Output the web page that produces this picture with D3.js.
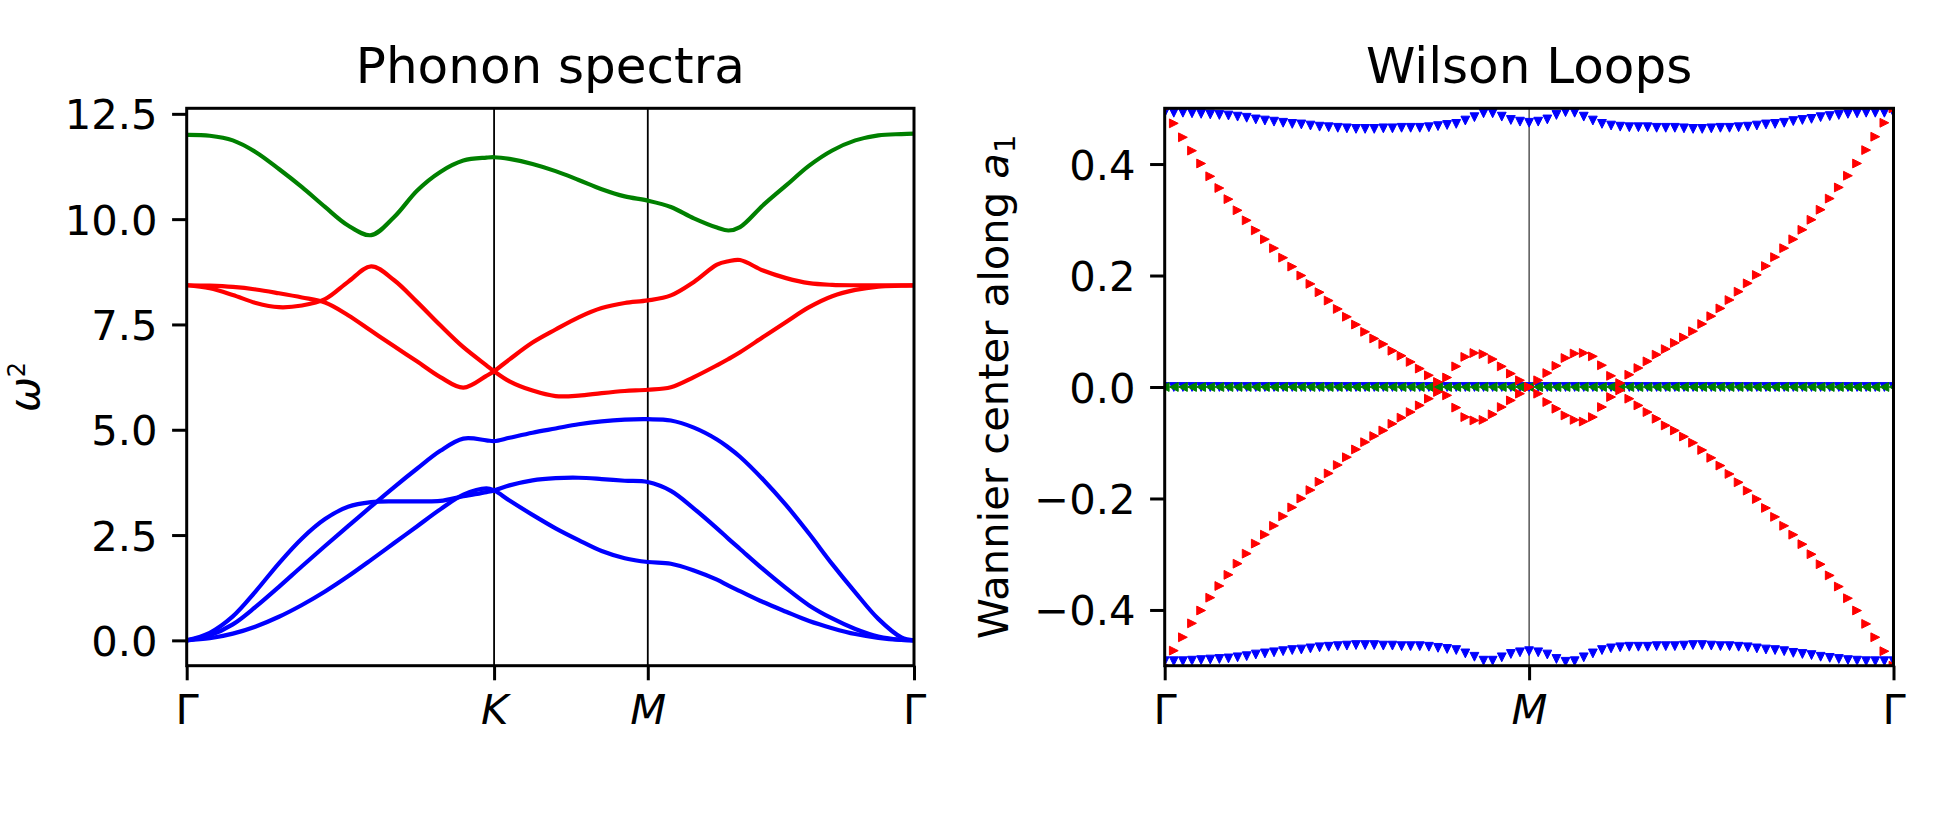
<!DOCTYPE html>
<html>
<head>
<meta charset="utf-8">
<script src="https://cdn.jsdelivr.net/npm/d3@7"></script>
<style>
  body { margin: 0; background: #fff; }
  text { font-family: "DejaVu Sans", sans-serif; fill: #000; }
</style>
</head>
<body>
<div id="figure"></div>
<script>
// ---- Phonon spectra: path Γ - K - M - Γ (path length units) ----
var kPath = [0, 0.1, 0.2, 0.3, 0.4, 0.5, 0.6, 0.7, 0.8, 0.9, 1.0, 1.1, 1.2, 1.3, 1.3333,
             1.4, 1.5, 1.6, 1.7, 1.8, 1.9, 2.0,
             2.1, 2.2, 2.3, 2.35, 2.4, 2.5, 2.6, 2.7, 2.8, 2.9, 3.0, 3.1, 3.1547];
var kTicks = [0, 1.3333, 2.0, 3.1547];
var kTickLabels = ["Γ", "K", "M", "Γ"];
var omegaTicks = [0, 2.5, 5, 7.5, 10, 12.5];

var bandGreen = [12.00, 11.98, 11.87, 11.59, 11.19, 10.76, 10.29, 9.85, 9.62, 10.05, 10.68, 11.12, 11.39, 11.46, 11.47,
                 11.43, 11.31, 11.14, 10.93, 10.71, 10.54, 10.44,
                 10.29, 10.02, 9.80, 9.73, 9.81, 10.33, 10.80, 11.27, 11.63, 11.87, 11.99, 12.02, 12.03];
var bandRedA  = [8.43, 8.36, 8.20, 8.01, 7.91, 7.95, 8.10, 8.51, 8.88, 8.55, 8.03, 7.48, 6.96, 6.53, 6.39,
                 6.15, 5.93, 5.80, 5.81, 5.87, 5.92, 5.95,
                 6.01, 6.25, 6.53, 6.68, 6.84, 7.20, 7.56, 7.91, 8.17, 8.32, 8.40, 8.42, 8.43];
var bandRedB  = [8.43, 8.42, 8.39, 8.33, 8.24, 8.14, 8.02, 7.72, 7.35, 6.98, 6.62, 6.25, 6.00, 6.28, 6.39,
                 6.67, 7.07, 7.38, 7.67, 7.89, 8.01, 8.07,
                 8.19, 8.51, 8.92, 9.00, 9.03, 8.78, 8.60, 8.48, 8.44, 8.43, 8.43, 8.43, 8.43];
var bandBlue1 = [0, 0.18, 0.57, 1.17, 1.83, 2.42, 2.88, 3.17, 3.28, 3.30, 3.30, 3.31, 3.42, 3.52, 3.56,
                 3.68, 3.80, 3.85, 3.86, 3.83, 3.79, 3.76,
                 3.55, 3.13, 2.66, 2.41, 2.17, 1.69, 1.24, 0.83, 0.52, 0.27, 0.09, 0.01, 0];
var bandBlue2 = [0, 0.12, 0.38, 0.80, 1.27, 1.76, 2.24, 2.71, 3.18, 3.64, 4.08, 4.50, 4.79, 4.75, 4.73,
                 4.81, 4.93, 5.03, 5.13, 5.20, 5.24, 5.25,
                 5.22, 5.05, 4.77, 4.58, 4.36, 3.82, 3.21, 2.53, 1.81, 1.14, 0.51, 0.07, 0];
var bandBlue3 = [0, 0.05, 0.16, 0.33, 0.56, 0.84, 1.16, 1.52, 1.91, 2.31, 2.71, 3.11, 3.46, 3.61, 3.56,
                 3.32, 2.98, 2.66, 2.38, 2.12, 1.95, 1.86,
                 1.82, 1.66, 1.44, 1.30, 1.17, 0.91, 0.68, 0.46, 0.29, 0.15, 0.06, 0.01, 0];

// ---- Wilson loops: 81 k points along Γ - M - Γ (index) ----
var wilsonTicks = [0, 40, 80];
var wilsonTickLabels = ["Γ", "M", "Γ"];
var wannierTicks = [-0.4, -0.2, 0, 0.2, 0.4];

var wcBlueTop = [0.492, 0.492, 0.492, 0.491, 0.490, 0.489, 0.488, 0.487, 0.485, 0.483,
                 0.480, 0.478, 0.476, 0.474, 0.472, 0.471, 0.469, 0.467, 0.466, 0.465,
                 0.464, 0.463, 0.463, 0.463, 0.464, 0.464, 0.465, 0.465, 0.465, 0.466,
                 0.468, 0.470, 0.472, 0.478, 0.484, 0.491, 0.491, 0.485, 0.479, 0.476,
                 0.474,
                 0.476, 0.480, 0.488, 0.493, 0.492, 0.485, 0.478, 0.472, 0.469, 0.467,
                 0.466, 0.466, 0.466, 0.465, 0.465, 0.465, 0.464, 0.463, 0.463, 0.464,
                 0.465, 0.465, 0.466, 0.467, 0.469, 0.471, 0.472, 0.474, 0.477, 0.479,
                 0.481, 0.484, 0.486, 0.488, 0.490, 0.491, 0.492, 0.492, 0.492, 0.492];
var wcBlueBottom = [-0.492, -0.492, -0.492, -0.491, -0.490, -0.489, -0.488, -0.487, -0.485, -0.483,
                    -0.480, -0.478, -0.476, -0.474, -0.472, -0.471, -0.469, -0.467, -0.466, -0.465,
                    -0.464, -0.463, -0.463, -0.463, -0.464, -0.464, -0.465, -0.465, -0.465, -0.466,
                    -0.468, -0.470, -0.472, -0.478, -0.484, -0.491, -0.491, -0.485, -0.479, -0.476,
                    -0.474,
                    -0.476, -0.480, -0.488, -0.493, -0.492, -0.485, -0.478, -0.472, -0.469, -0.467,
                    -0.466, -0.466, -0.466, -0.465, -0.465, -0.465, -0.464, -0.463, -0.463, -0.464,
                    -0.465, -0.465, -0.466, -0.467, -0.469, -0.471, -0.472, -0.474, -0.477, -0.479,
                    -0.481, -0.484, -0.486, -0.488, -0.490, -0.491, -0.492, -0.492, -0.492, -0.492];
var wcRedUp = [0.500, 0.473, 0.448, 0.424, 0.401, 0.378, 0.357, 0.337, 0.317, 0.299,
               0.281, 0.265, 0.249, 0.232, 0.216, 0.200, 0.185, 0.170, 0.155, 0.140,
               0.126, 0.112, 0.099, 0.087, 0.077, 0.065, 0.056, 0.045, 0.033, 0.021,
               0.009, 0.017, 0.037, 0.054, 0.061, 0.059, 0.050, 0.037, 0.024, 0.012,
               0.000,
               0.012, 0.025, 0.038, 0.052, 0.060, 0.061, 0.055, 0.039, 0.020, 0.007,
               0.022, 0.034, 0.046, 0.058, 0.068, 0.079, 0.089, 0.100, 0.113, 0.127,
               0.141, 0.156, 0.171, 0.186, 0.201, 0.217, 0.233, 0.249, 0.265, 0.282,
               0.300, 0.318, 0.338, 0.358, 0.379, 0.401, 0.425, 0.449, 0.474, 0.500];
var wcRedDown = [-0.500, -0.473, -0.449, -0.424, -0.401, -0.378, -0.357, -0.337, -0.317, -0.299,
                 -0.281, -0.265, -0.249, -0.232, -0.216, -0.200, -0.185, -0.170, -0.155, -0.140,
                 -0.126, -0.112, -0.099, -0.088, -0.078, -0.066, -0.055, -0.045, -0.033, -0.021,
                 -0.009, -0.015, -0.037, -0.054, -0.060, -0.059, -0.049, -0.036, -0.024, -0.012,
                 0.000,
                 -0.012, -0.027, -0.039, -0.051, -0.059, -0.062, -0.054, -0.036, -0.018, -0.006,
                 -0.021, -0.033, -0.045, -0.057, -0.069, -0.078, -0.089, -0.100, -0.113, -0.127,
                 -0.141, -0.156, -0.171, -0.186, -0.201, -0.217, -0.233, -0.249, -0.265, -0.282,
                 -0.300, -0.318, -0.338, -0.358, -0.379, -0.401, -0.425, -0.449, -0.474, -0.500];
var wcZero = [0, 0, 0, 0, 0, 0, 0, 0, 0, 0, 0, 0, 0, 0, 0, 0, 0, 0, 0, 0,
              0, 0, 0, 0, 0, 0, 0, 0, 0, 0, 0, 0, 0, 0, 0, 0, 0, 0, 0, 0,
              0,
              0, 0, 0, 0, 0, 0, 0, 0, 0, 0, 0, 0, 0, 0, 0, 0, 0, 0, 0, 0,
              0, 0, 0, 0, 0, 0, 0, 0, 0, 0, 0, 0, 0, 0, 0, 0, 0, 0, 0, 0];


var width = 1950, height = 840;
var tickLen = 14.6, tickPad = 14.6, fontSize = 41.7, titleSize = 50;
var phononBox = {left: 186.7, right: 914, top: 108.3, bottom: 665.7};
var wilsonBox = {left: 1164.7, right: 1893.5, top: 108.3, bottom: 665.7};

var svg = d3.select("#figure")
            .append("svg")
            .attr("width", width)
            .attr("height", height);

svg.append("rect").attr("width", width).attr("height", height).attr("fill", "white");


//Axis ticks, labels, title and clip area of one panel
function drawFrame(svg, box, x, y, xTicks, xLabels, yTicks, yFormat, title, clipId){

    svg.append("clipPath")
       .attr("id", clipId)
       .append("rect")
       .attr("x", box.left).attr("y", box.top)
       .attr("width", box.right - box.left)
       .attr("height", box.bottom - box.top);

    var xAxis = svg.append("g")
                   .attr("class", "x_axis")
                   .attr("transform", "translate(0," + box.bottom + ")")
                   .call(d3.axisBottom(x)
                           .tickValues(xTicks)
                           .tickSize(tickLen)
                           .tickPadding(tickPad)
                           .tickFormat(function(d, i){ return xLabels[i]; }));

    var yAxis = svg.append("g")
                   .attr("class", "y_axis")
                   .attr("transform", "translate(" + box.left + ",0)")
                   .call(d3.axisLeft(y)
                           .tickValues(yTicks)
                           .tickSize(tickLen)
                           .tickPadding(tickPad)
                           .tickFormat(yFormat));

    [xAxis, yAxis].forEach(function(a){
        a.select(".domain").remove();
        a.attr("font-family", null).attr("font-size", null);
        a.selectAll(".tick line").attr("stroke", "black").attr("stroke-width", 3);
        a.selectAll(".tick text").style("font-size", fontSize + "px");
    });

    xAxis.selectAll(".tick text")
         .style("font-style", function(d, i){ return /[A-Z]/.test(xLabels[i]) ? "italic" : "normal"; });
    yAxis.selectAll(".tick text").attr("dy", "0.36em");

    svg.append("text")
       .attr("x", (box.left + box.right) / 2)
       .attr("y", box.top - 25)
       .attr("text-anchor", "middle")
       .style("font-size", titleSize + "px")
       .text(title);
}

function drawSpines(svg, box){
    svg.append("rect")
       .attr("x", box.left).attr("y", box.top)
       .attr("width", box.right - box.left)
       .attr("height", box.bottom - box.top)
       .attr("fill", "none")
       .attr("stroke", "black")
       .attr("stroke-width", 3);
}

//marker paths like matplotlib 'v', '>' and '<'
function triangle(kind, h){
    if (kind == "v") return "M" + (-h) + "," + (-h) + "L" + h + "," + (-h) + "L0," + h + "Z";
    if (kind == ">") return "M" + (-h) + "," + (-h) + "L" + h + ",0L" + (-h) + "," + h + "Z";
    return "M" + h + "," + (-h) + "L" + (-h) + ",0L" + h + "," + h + "Z";
}


function drawPhonon(svg){

    var box = phononBox;
    var allBands = [bandBlue1, bandBlue2, bandBlue3, bandRedA, bandRedB, bandGreen];
    var lo = d3.min(allBands, function(b){ return d3.min(b); });
    var hi = d3.max(allBands, function(b){ return d3.max(b); });
    var pad = 0.05 * (hi - lo);

    var x = d3.scaleLinear()
              .domain([kPath[0], kPath[kPath.length - 1]])
              .range([box.left, box.right]);
    var y = d3.scaleLinear()
              .domain([lo - pad, hi + pad])
              .range([box.bottom, box.top]);

    drawFrame(svg, box, x, y, kTicks, kTickLabels, omegaTicks, d3.format(".1f"), "Phonon spectra", "clip-phonon");

    var bands = [
        {values: bandBlue1, color: "#0000ff"},
        {values: bandBlue2, color: "#0000ff"},
        {values: bandBlue3, color: "#0000ff"},
        {values: bandRedA,  color: "#ff0000"},
        {values: bandRedB,  color: "#ff0000"},
        {values: bandGreen, color: "#008000"}
    ];

    var valueline = d3.line()
                      .x(function(d, i) { return x(kPath[i]); })
                      .y(function(d) { return y(d); })
                      .curve(d3.curveCatmullRom);

    var plot = svg.append("g").attr("clip-path", "url(#clip-phonon)");

    // high symmetry points
    plot.selectAll(".kline")
        .data(kTicks.slice(1, 3))
        .enter()
        .append("line")
        .attr("class", "kline")
        .attr("x1", function(d){ return x(d); })
        .attr("x2", function(d){ return x(d); })
        .attr("y1", box.top)
        .attr("y2", box.bottom)
        .attr("stroke", "black")
        .attr("stroke-width", 1.8);

    plot.selectAll(".band")
        .data(bands)
        .enter()
        .append("path")
        .attr("class", "band")
        .attr("d", function(b){ return valueline(b.values); })
        .attr("fill", "none")
        .attr("stroke", function(b){ return b.color; })
        .attr("stroke-width", 4.2);

    drawSpines(svg, box);

    svg.append("text")
       .attr("transform", "translate(39," + ((box.top + box.bottom) / 2) + ") rotate(-90)")
       .attr("text-anchor", "middle")
       .style("font-size", fontSize + "px")
       .call(function(t){
           t.append("tspan").style("font-style", "italic").text("ω");
           t.append("tspan").attr("dy", -14).style("font-size", "24px").text("2");
       });
}


function drawWilson(svg){

    var box = wilsonBox;
    var x = d3.scaleLinear()
              .domain([0, wcZero.length - 1])
              .range([box.left, box.right]);
    var y = d3.scaleLinear()
              .domain([-0.5, 0.5])
              .range([box.bottom, box.top]);

    drawFrame(svg, box, x, y, wilsonTicks, wilsonTickLabels, wannierTicks, d3.format(".1f"), "Wilson Loops", "clip-wilson");

    var plot = svg.append("g").attr("clip-path", "url(#clip-wilson)");

    plot.append("line")
        .attr("x1", x(wilsonTicks[1])).attr("x2", x(wilsonTicks[1]))
        .attr("y1", box.top).attr("y2", box.bottom)
        .attr("stroke", "black")
        .attr("stroke-width", 1);

    var series = [
        {values: wcBlueTop,    color: "#0000ff", marker: "v"},
        {values: wcBlueBottom, color: "#0000ff", marker: "v"},
        {values: wcZero,       color: "#0000ff", marker: "v"},
        {values: wcZero,       color: "#008000", marker: "<"},
        {values: wcRedUp,      color: "#ff0000", marker: ">"},
        {values: wcRedDown,    color: "#ff0000", marker: ">"}
    ];

    series.forEach(function(s){
        plot.append("g")
            .selectAll("path")
            .data(s.values)
            .enter()
            .append("path")
            .attr("d", triangle(s.marker, 4.4))
            .attr("transform", function(d, i){ return "translate(" + x(i) + "," + y(d) + ")"; })
            .attr("fill", s.color)
            .attr("stroke", s.color)
            .attr("stroke-width", 1);
    });

    drawSpines(svg, box);

    svg.append("text")
       .attr("transform", "translate(1008," + ((box.top + box.bottom) / 2) + ") rotate(-90)")
       .attr("text-anchor", "middle")
       .style("font-size", fontSize + "px")
       .call(function(t){
           t.append("tspan").text("Wannier center along ");
           t.append("tspan").style("font-style", "italic").text("a");
           t.append("tspan").attr("dy", 7).style("font-size", "29px").text("1");
       });
}

drawPhonon(svg);
drawWilson(svg);
</script>
</body>
</html>
